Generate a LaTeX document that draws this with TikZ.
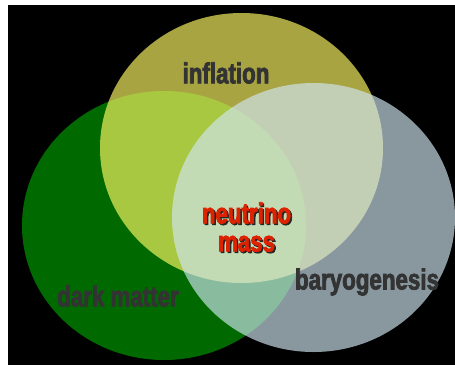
\documentclass[tikz,border=0pt]{standalone}
\usepackage{fontspec}
\usepackage{xcolor}
\usepackage{tikz}
\usetikzlibrary{positioning}
\newfontfamily\venfont[FakeStretch=0.77,FakeBold=2.5]{Liberation Sans}
\definecolor{dmgreen}{RGB}{0,106,0}
\definecolor{infyellow}{RGB}{255,250,101}
\definecolor{baryblue}{RGB}{209,230,242}
\definecolor{labelgrey}{RGB}{51,51,51}
\definecolor{massred}{RGB}{221,34,0}
\tikzset{
    venlabel/.style={font=\venfont\bfseries\fontsize{29}{28}\selectfont, text=labelgrey, inner sep=0pt},
    masslabel/.style={venlabel, text=massred, align=center},
    massshadow/.style={venlabel, text=black!85, align=center}
}

\begin{document}
\begin{tikzpicture}[x=1pt, y=-1pt]
    \useasboundingbox (0,0) rectangle (455,365);
    \fill[white] (0,0) rectangle (455,365);
    % Background
    \fill[black] (8,5) rectangle (455,365);

    % Sets
    \fill[dmgreen] (164,225.5) ellipse [x radius=142pt, y radius=134.5pt];
    \fill[infyellow, opacity=0.66] (241.5,148) ellipse [x radius=141.5pt, y radius=135pt];
    \fill[baryblue, opacity=0.66] (313.5,217.5) ellipse [x radius=141.5pt, y radius=134.5pt];

    % Labels
    \node[venlabel] (inf) at (226,73) {inflation};
    \node[venlabel] (dm) at (118,296) {dark matter};
    \node[venlabel] (bary) at (367,282) {baryogenesis};

    % Centre
    \node[massshadow] (numshadow) at (248,228.5) {neutrino\\mass};
    \node[masslabel] (num) at (246.5,227) {neutrino\\mass};
\end{tikzpicture}
\end{document}
